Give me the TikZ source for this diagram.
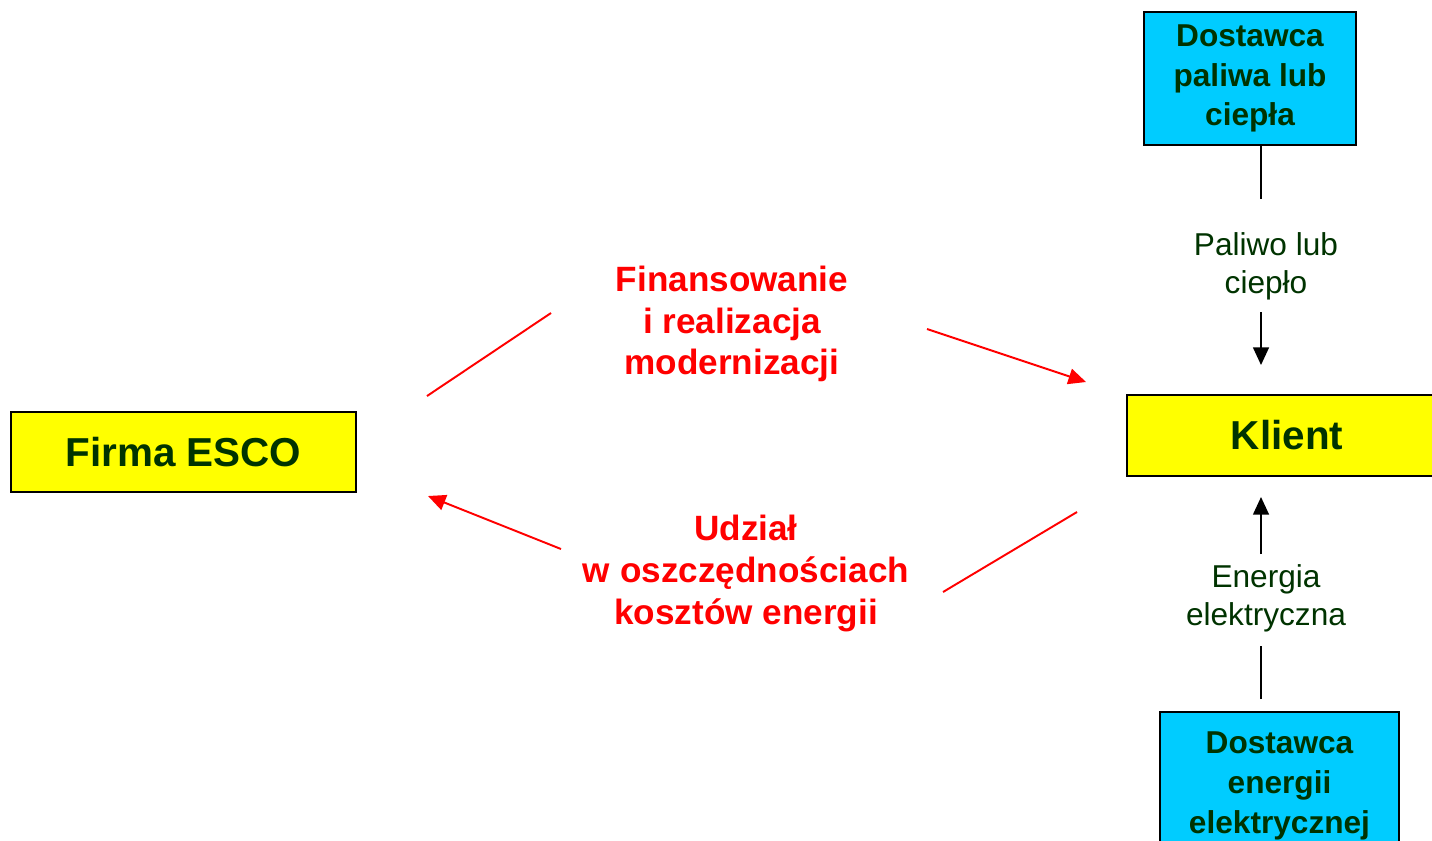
\documentclass[tikz,border=0pt]{standalone}
\usepackage{fontspec}
\setmainfont{Liberation Sans}
\usetikzlibrary{arrows.meta}
\definecolor{zielen}{RGB}{0,51,0}
\definecolor{zolty}{RGB}{255,255,0}
\definecolor{blekit}{RGB}{0,204,255}
\tikzset{
	pudlo/.style={draw=black, line width=1pt, align=center, text=zielen, font=\bfseries},
	czerwony/.style={red, line width=1.1pt},
	czarny/.style={black, line width=1pt},
	grot/.style={-{Triangle[length=10pt, width=9pt]}}
}
\begin{document}
\begin{tikzpicture}[x=0.02cm, y=-0.02cm]
			\useasboundingbox (0,0) rectangle (1432,840);

			% Prostokaty: firma, klient i dostawcy
			\node[pudlo, fill=zolty, minimum width=6.9cm, minimum height=1.6cm, font=\fontsize{23}{27}\selectfont\bfseries] (esco) at (183.5,452) {Firma ESCO};
			\node[pudlo, fill=zolty, minimum width=6.4cm, minimum height=1.62cm, font=\fontsize{23}{27}\selectfont\bfseries] (klient) at (1287,435.5) {Klient};
			\node[pudlo, fill=blekit, minimum width=4.24cm, minimum height=2.66cm, font=\fontsize{18}{22.7}\selectfont\bfseries] (dpal) at (1250,78.5) {Dostawca\\paliwa lub\\ciepła};
			\node[pudlo, fill=blekit, minimum width=4.78cm, minimum height=2.94cm, font=\fontsize{18}{22.7}\selectfont\bfseries] (dene) at (1279.5,785.5) {Dostawca\\energii\\elektrycznej};

			% Opisy przeplywow
			\node[align=center, text=red, font=\fontsize{20}{23.8}\selectfont\bfseries] (fin) at (732,324) {Finansowanie\\i realizacja\\modernizacji};
			\node[align=center, text=red, font=\fontsize{20}{23.8}\selectfont\bfseries] (udz) at (746,573.5) {Udział\\w oszczędnościach\\kosztów energii};
			\node[align=center, text=zielen, font=\fontsize{18}{21.5}\selectfont] (pal) at (1266,266) {Paliwo lub\\ciepło};
			\node[align=center, text=zielen, font=\fontsize{18}{21.5}\selectfont] (ene) at (1266,598.5) {Energia\\elektryczna};

			% Punkty koncowe linii
			\coordinate (fin1) at (427,396);   % od firmy ESCO
			\coordinate (fin2) at (551,313);   % przed tekstem
			\coordinate (fin3) at (927,329);   % za tekstem
			\coordinate (fin4) at (1086,382);  % do klienta
			\coordinate (udz1) at (1077,512);  % od klienta
			\coordinate (udz2) at (943,592);   % przed tekstem
			\coordinate (udz3) at (561,549);   % za tekstem
			\coordinate (udz4) at (428,496);   % do firmy ESCO
			\coordinate (pal0) at (1261,145);
			\coordinate (pal1) at (1261,199);
			\coordinate (pal2) at (1261,312);
			\coordinate (pal3) at (1261,365);
			\coordinate (ene0) at (1261,699);
			\coordinate (ene1) at (1261,646);
			\coordinate (ene2) at (1261,554);
			\coordinate (ene3) at (1261,497);

			% Linie czerwone
			\draw[czerwony] (fin1) -- (fin2);
			\draw[czerwony, grot] (fin3) -- (fin4);
			\draw[czerwony] (udz1) -- (udz2);
			\draw[czerwony, grot] (udz3) -- (udz4);

			% Linie czarne
			\draw[czarny] (pal0) -- (pal1);
			\draw[czarny, grot] (pal2) -- (pal3);
			\draw[czarny] (ene0) -- (ene1);
			\draw[czarny, grot] (ene2) -- (ene3);

		\end{tikzpicture}
\end{document}
